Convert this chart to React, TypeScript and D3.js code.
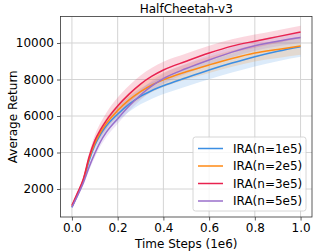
import { useEffect, useRef } from 'react';
import * as d3 from 'd3';

const steps = [0, 0.025, 0.05, 0.075, 0.1, 0.125, 0.15, 0.2, 0.25, 0.3, 0.35, 0.4, 0.5, 0.6, 0.7, 0.8, 0.9, 1.0];

const blueMean = [1000, 1700, 2450, 3550, 4400, 5000, 5450, 6100, 6650, 7080, 7400, 7660, 8100, 8520, 8900, 9250, 9550, 9800];
const orangeMean = [1050, 1750, 2500, 3650, 4500, 5100, 5580, 6300, 6880, 7330, 7700, 7980, 8420, 8800, 9150, 9450, 9650, 9830];
const redMean = [1100, 1800, 2550, 3750, 4650, 5250, 5750, 6550, 7200, 7750, 8180, 8520, 9000, 9450, 9830, 10100, 10350, 10600];
const purpleMean = [1000, 1650, 2350, 3200, 3950, 4600, 5100, 5850, 6550, 7150, 7650, 8050, 8600, 9070, 9500, 9850, 10100, 10300];

const blueStd = [60, 100, 150, 200, 250, 300, 320, 380, 420, 440, 450, 460, 480, 500, 520, 540, 550, 560];
const orangeStd = [60, 100, 150, 200, 250, 280, 300, 330, 360, 380, 390, 400, 420, 440, 450, 460, 470, 480];
const redStd = [60, 100, 150, 220, 300, 380, 420, 460, 470, 470, 460, 450, 420, 400, 380, 360, 350, 340];
const purpleStd = [60, 90, 130, 180, 220, 250, 260, 270, 280, 280, 280, 280, 280, 280, 280, 280, 280, 280];

const labels = ['IRA(n=1e5)', 'IRA(n=2e5)', 'IRA(n=3e5)', 'IRA(n=5e5)'];
const colors = ['#3b8ee3', '#ff8a14', '#e8224f', '#9a6fcb'];
const xTicks = [0, 0.2, 0.4, 0.6, 0.8, 1.0];
const yTicks = [2000, 4000, 6000, 8000, 10000];

const App = () => {
  const svgRef = useRef(null);

  useEffect(() => {
    const width = 317;
    const height = 252;
    const margin = { top: 16.5, right: 5, bottom: 35, left: 60.5 };
    const font = 'DejaVu Sans, sans-serif';

    const svg = d3.select(svgRef.current)
      .attr('width', width)
      .attr('height', height);
    svg.selectAll('*').remove();

    const x = d3.scaleLinear().domain([-0.05, 1.05]).range([margin.left, width - margin.right]);
    const y = d3.scaleLinear().domain([466, 11452]).range([height - margin.bottom, margin.top]);

    svg.append('rect').attr('width', width).attr('height', height).attr('fill', 'white');

    // grid
    svg.append('g').selectAll('line').data(xTicks).enter().append('line')
      .attr('x1', d => x(d)).attr('x2', d => x(d))
      .attr('y1', margin.top).attr('y2', height - margin.bottom)
      .attr('stroke', '#d4d4d4').attr('stroke-width', 1);
    svg.append('g').selectAll('line').data(yTicks).enter().append('line')
      .attr('x1', margin.left).attr('x2', width - margin.right)
      .attr('y1', d => y(d)).attr('y2', d => y(d))
      .attr('stroke', '#d4d4d4').attr('stroke-width', 1);

    const means = [blueMean, orangeMean, redMean, purpleMean];
    const stds = [blueStd, orangeStd, redStd, purpleStd];

    const plot = svg.append('g');
    means.forEach((m, i) => {
      const rows = steps.map((s, j) => ({ s, m: m[j], sd: stds[i][j] }));
      const area = d3.area()
        .x(d => x(d.s))
        .y0(d => y(d.m - d.sd))
        .y1(d => y(d.m + d.sd))
        .curve(d3.curveMonotoneX);
      plot.append('path').datum(rows).attr('d', area)
        .attr('fill', colors[i]).attr('fill-opacity', 0.18);
    });
    means.forEach((m, i) => {
      const rows = steps.map((s, j) => ({ s, m: m[j] }));
      const line = d3.line().x(d => x(d.s)).y(d => y(d.m)).curve(d3.curveMonotoneX);
      plot.append('path').datum(rows).attr('d', line)
        .attr('fill', 'none').attr('stroke', colors[i]).attr('stroke-width', 1.5);
    });

    // frame
    svg.append('rect')
      .attr('x', margin.left).attr('y', margin.top)
      .attr('width', width - margin.right - margin.left)
      .attr('height', height - margin.bottom - margin.top)
      .attr('fill', 'none').attr('stroke', '#333').attr('stroke-width', 0.8);

    const xAxis = svg.append('g')
      .attr('transform', `translate(0,${height - margin.bottom})`)
      .call(d3.axisBottom(x).tickValues(xTicks).tickFormat(d3.format('.1f')).tickSize(3.5).tickPadding(3));
    const yAxis = svg.append('g')
      .attr('transform', `translate(${margin.left},0)`)
      .call(d3.axisLeft(y).tickValues(yTicks).tickFormat(d => String(d)).tickSize(3.5).tickPadding(3));
    [xAxis, yAxis].forEach(a => {
      a.select('.domain').remove();
      a.selectAll('line').attr('stroke', '#333').attr('stroke-width', 0.8);
      a.selectAll('text').attr('font-family', font).attr('font-size', 12).attr('fill', '#000');
    });

    svg.append('text')
      .attr('x', (margin.left + width - margin.right) / 2).attr('y', 13)
      .attr('text-anchor', 'middle').attr('font-family', font).attr('font-size', 12)
      .text('HalfCheetah-v3');
    svg.append('text')
      .attr('x', (margin.left + width - margin.right) / 2).attr('y', 248)
      .attr('text-anchor', 'middle').attr('font-family', font).attr('font-size', 12)
      .text('Time Steps (1e6)');
    svg.append('text')
      .attr('transform', `translate(17,${(margin.top + height - margin.bottom) / 2}) rotate(-90)`)
      .attr('text-anchor', 'middle').attr('font-family', font).attr('font-size', 12)
      .text('Average Return');

    // legend
    const lg = svg.append('g').attr('transform', 'translate(193,137)');
    lg.append('rect').attr('width', 113).attr('height', 74).attr('rx', 2.5)
      .attr('fill', 'white').attr('fill-opacity', 0.8).attr('stroke', '#ccc').attr('stroke-width', 0.8);
    labels.forEach((l, i) => {
      const yy = 11.5 + i * 17.5;
      lg.append('line').attr('x1', 5).attr('x2', 30).attr('y1', yy).attr('y2', yy)
        .attr('stroke', colors[i]).attr('stroke-width', 1.5);
      lg.append('text').attr('x', 40).attr('y', yy + 4.3)
        .attr('font-family', font).attr('font-size', 12).text(l);
    });
  }, []);

  return <svg ref={svgRef} style={{ position: 'absolute', left: 0, top: 0 }}></svg>;
};

export default App;
